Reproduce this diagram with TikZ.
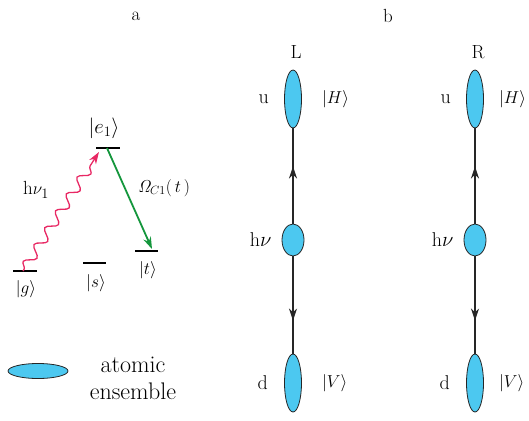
\documentclass[tikz,border=0pt]{standalone}
\usepackage{amsmath}
\usetikzlibrary{arrows.meta,positioning,shapes.geometric,decorations.pathmorphing,decorations.markings}
\definecolor{ensblue}{RGB}{76,200,240}
\definecolor{photon}{RGB}{232,40,100}
\definecolor{ctrl}{RGB}{20,150,60}

\begin{document}
\begin{tikzpicture}[x=1pt, y=-1pt,
  ens/.style={ellipse, draw=black!85, fill=ensblue, line width=0.8pt,
              inner sep=0pt, minimum width=17pt, minimum height=58pt},
  pump/.style={ens, minimum width=22pt, minimum height=32pt},
  level/.style={line width=1.3pt},
  lab/.style={inner sep=0pt, font=\fontsize{19}{21}\selectfont},
  big/.style={inner sep=0pt, font=\fontsize{20}{22}\selectfont},
  ket/.style={inner sep=0pt, font=\fontsize{19}{21}\selectfont},
  keytxt/.style={inner sep=0pt, font=\fontsize{24}{28}\selectfont},
  link/.style={line width=1.4pt, draw=black!85, postaction=decorate},
  upmark/.style={decoration={markings,
      mark=at position 0.6 with {\arrow{Stealth[length=12pt,width=8pt]}}}},
  downmark/.style={decoration={markings,
      mark=at position 0.66 with {\arrow{Stealth[length=12pt,width=8pt]}}}},
  >={Stealth[length=12pt,width=8pt]}]
\useasboundingbox (0,0) rectangle (529,420);

% panel a: level scheme
\node[lab] (a) at (136,16) {a};
\coordinate (e1L) at (96,148);
\coordinate (e1R) at (120,148);
\coordinate (e1in) at (99,152);
\coordinate (e1out) at (107,148);
\coordinate (gL) at (13,271);
\coordinate (gR) at (37,271);
\coordinate (gin) at (23,271);
\coordinate (sL) at (83,263);
\coordinate (sR) at (106,263);
\coordinate (tL) at (135,251);
\coordinate (tR) at (158,251);
\coordinate (tin) at (152,249);
\draw[level] (e1L) -- (e1R);
\draw[level] (gL) -- (gR);
\draw[level] (sL) -- (sR);
\draw[level] (tL) -- (tR);
\node[big] (e1) at (104,128) {$|e_{1}\rangle$};
\node[ket] (g) at (26,289) {$|g\rangle$};
\node[ket] (s) at (96,283) {$|s\rangle$};
\node[ket] (t) at (148,270) {$|t\rangle$};
\draw[photon, line width=1.3pt, ->, decorate,
      decoration={snake, amplitude=5pt, segment length=20pt,
                  pre length=2pt, post length=12pt}] (gin) -- (e1in);
\draw[ctrl, line width=1.8pt, ->] (e1out) -- (tin);
\node[ket] (hv1) at (36,190) {h$\nu_{1}$};
\node[inner sep=0pt, font=\fontsize{17}{19}\selectfont] (omega) at (164,188)
     {$\mathit{\Omega}_{C1}(\,t\,)$};

% legend
\node[ens, minimum width=60pt, minimum height=15pt] (key) at (38,371) {};
\node[keytxt, anchor=base] (keytop) at (133,372) {atomic};
\node[keytxt, anchor=base] (keybot) at (133,399) {ensemble};

% panel b: two chains
\node[lab] (b) at (388,16) {b};
\foreach \side/\x/\gap in {L/293/20pt, R/475/15pt}{
  \node[ens] (u\side) at (\x,99) {};
  \node[pump] (m\side) at (\x,240) {};
  \node[ens] (d\side) at (\x,383) {};
  \node[lab] (tag\side) at (\x+3,52) {\side};
  \node[big, left=15pt of u\side] (ul\side) {u};
  \node[ket, right=\gap of u\side] (H\side) {$|H\rangle$};
  \node[big, left=10pt of m\side] (hv\side) {h$\nu$};
  \node[big, left=16pt of d\side] (dl\side) {d};
  \node[ket, right=\gap of d\side] (V\side) {$|V\rangle$};
  \draw[link, upmark] (m\side) -- (u\side);
  \draw[link, downmark] (m\side) -- (d\side);
}
\end{tikzpicture}
\end{document}
